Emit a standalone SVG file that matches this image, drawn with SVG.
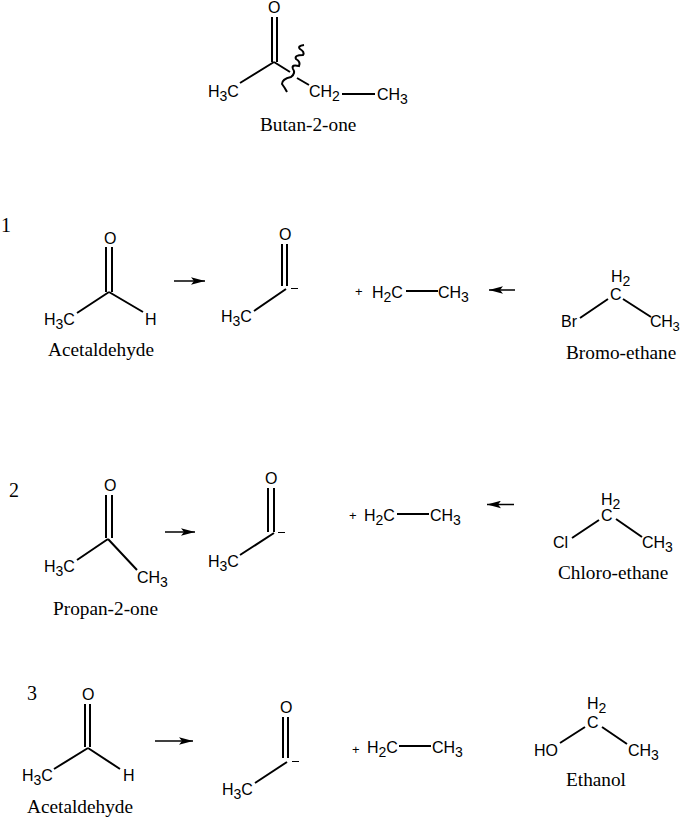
<svg xmlns="http://www.w3.org/2000/svg" width="680" height="818" viewBox="0 0 680 818">
<style>
text{fill:#000}
.a{font-family:"Liberation Sans",Arial,sans-serif;font-size:16px}
.a .u{font-size:14px}
.a .v{font-size:13px}
.t{font-family:"Liberation Serif","Times New Roman",serif;font-size:19.3px}
.n{font-family:"Liberation Serif","Times New Roman",serif;font-size:20px}
.s{font-family:"Liberation Sans",Arial,sans-serif;font-size:13px}
.b{stroke:#000;stroke-width:2;fill:none}
.w{stroke:#000;stroke-width:1.5;fill:none}
.m{stroke:#000;stroke-width:1;fill:none}
</style>
<defs>
<marker id="h" markerUnits="userSpaceOnUse" markerWidth="15" markerHeight="8" refX="14" refY="4" orient="auto"><path d="M0 0.2L14 4L0 7.8L3 4Z" fill="#000"/></marker>
</defs>
<rect width="680" height="818" fill="#fff"/>
<g id="connectors">
<g class="b">
<path d="M272 17V62M277 17V62M274 62L240 83M274 62L290 72M297 78L309 85M342 94H375"/>
<path d="M304 45Q297 46 300 49Q305 52 303 55Q294 55 296 59Q301 62 299 66Q291 64 293 69Q296 73 291 77Q282 79 282 84Q285 88 287 92"/>
<path d="M106 247V292M112 247V292M109 292L77 313M109 292L143 312"/>
<path d="M282 244V286M287 244V286M286 289L254 311"/>
<path d="M406 291H438M608 299L580 318M623 299L651 317"/>
<path d="M106 495V538M112 495V538M108 539L77 560M108 539L137 570"/>
<path d="M268 488V532M274 488V532M274 533L240 555"/>
<path d="M397 514H429M599 520L572 538M616 519L642 537"/>
<path d="M85 704V747M90 704V747M88 748L54 769M88 748L120 769"/>
<path d="M283 717V758M288 717V758M287 762L255 783"/>
<path d="M399 746H431M585 727L560 743M602 727L627 744"/>
</g>
<g class="w">
<path d="M174 281H205" marker-end="url(#h)"/>
<path d="M515 290H489" marker-end="url(#h)"/>
<path d="M165 532H195" marker-end="url(#h)"/>
<path d="M514 504.500H487" marker-end="url(#h)"/>
<path d="M155 741H193" marker-end="url(#h)"/>
</g>
</g>
<g id="butanone">
<text class="a" x="268" y="13">O</text>
<text class="a" x="208" y="97">H<tspan class="u" dy="4">3</tspan><tspan dy="-4">C</tspan></text>
<text class="a" x="309" y="97">CH<tspan class="u" dy="4">2</tspan></text>
<text class="a" x="377" y="100">CH<tspan class="u" dy="4">3</tspan></text>
<text class="t" x="260" y="131">Butan-2-one</text>
</g>
<g id="label-1"><text class="n" x="1" y="232">1</text></g>
<g id="acetaldehyde-1">
<text class="a" x="104" y="244">O</text>
<text class="a" x="44" y="325">H<tspan class="u" dy="4">3</tspan><tspan dy="-4">C</tspan></text>
<text class="a" x="145" y="325">H</text>
<text class="t" x="48" y="356">Acetaldehyde</text>
</g>
<g id="acyl-1">
<text class="a" x="279" y="240">O</text>
<text class="a" x="221" y="322">H<tspan class="u" dy="4">3</tspan><tspan dy="-4">C</tspan></text>
<path class="m" d="M291 288.500H298"/>
</g>
<g id="ethyl-1">
<text class="s" x="355" y="296">+</text>
<text class="a" x="372" y="298">H<tspan class="u" dy="4">2</tspan><tspan dy="-4">C</tspan></text>
<text class="a" x="438" y="298">CH<tspan class="u" dy="4">3</tspan></text>
</g>
<g id="bromoethane">
<text class="a" x="611" y="282">H<tspan class="u" dy="4">2</tspan></text>
<text class="a" x="610" y="300">C</text>
<text class="a" x="561" y="327">Br</text>
<text class="a" x="650" y="327" letter-spacing="-0.3">CH<tspan class="v" dy="4">3</tspan></text>
<text class="t" x="566" y="359">Bromo-ethane</text>
</g>
<g id="label-2"><text class="n" x="9" y="497">2</text></g>
<g id="propanone">
<text class="a" x="104" y="491">O</text>
<text class="a" x="44" y="572">H<tspan class="u" dy="4">3</tspan><tspan dy="-4">C</tspan></text>
<text class="a" x="137" y="583">CH<tspan class="u" dy="4">3</tspan></text>
<text class="t" x="53" y="615">Propan-2-one</text>
</g>
<g id="acyl-2">
<text class="a" x="265" y="484">O</text>
<text class="a" x="208" y="567">H<tspan class="u" dy="4">3</tspan><tspan dy="-4">C</tspan></text>
<path class="m" d="M278 532.500H285"/>
</g>
<g id="ethyl-2">
<text class="s" x="349" y="520">+</text>
<text class="a" x="364" y="521">H<tspan class="u" dy="4">2</tspan><tspan dy="-4">C</tspan></text>
<text class="a" x="430" y="521">CH<tspan class="u" dy="4">3</tspan></text>
</g>
<g id="chloroethane">
<text class="a" x="601" y="505">H<tspan class="u" dy="4">2</tspan></text>
<text class="a" x="601" y="521">C</text>
<text class="a" x="553" y="548">Cl</text>
<text class="a" x="642" y="548">CH<tspan class="u" dy="4">3</tspan></text>
<text class="t" x="558" y="579">Chloro-ethane</text>
</g>
<g id="label-3"><text class="n" x="27" y="700">3</text></g>
<g id="acetaldehyde-3">
<text class="a" x="82" y="700">O</text>
<text class="a" x="22" y="781">H<tspan class="u" dy="4">3</tspan><tspan dy="-4">C</tspan></text>
<text class="a" x="123" y="781">H</text>
<text class="t" x="27" y="813">Acetaldehyde</text>
</g>
<g id="acyl-3">
<text class="a" x="280" y="713">O</text>
<text class="a" x="222" y="795">H<tspan class="u" dy="4">3</tspan><tspan dy="-4">C</tspan></text>
<path class="m" d="M292 761.500H299"/>
</g>
<g id="ethyl-3">
<text class="s" x="352" y="754">+</text>
<text class="a" x="367" y="753">H<tspan class="u" dy="4">2</tspan><tspan dy="-4">C</tspan></text>
<text class="a" x="432" y="753">CH<tspan class="u" dy="4">3</tspan></text>
</g>
<g id="ethanol">
<text class="a" x="587" y="709">H<tspan class="u" dy="4">2</tspan></text>
<text class="a" x="587" y="728">C</text>
<text class="a" x="534" y="756">HO</text>
<text class="a" x="628" y="756">CH<tspan class="u" dy="4">3</tspan></text>
<text class="t" x="566" y="786">Ethanol</text>
</g>
</svg>
